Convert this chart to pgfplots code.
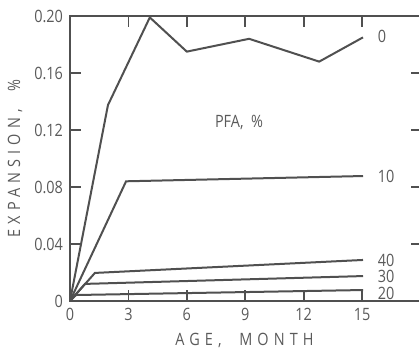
\documentclass[border=0pt]{standalone}
\usepackage{fontspec}
\setmainfont{Open Sans}[FakeStretch=0.85]
\newfontfamily\spaced{Open Sans}[FakeStretch=0.85,LetterSpace=30]
\usepackage{pgfplots}
\pgfplotsset{compat=1.18}
\definecolor{ln}{HTML}{505050}
\definecolor{tx}{HTML}{5A5A5A}
\begin{document}
\begin{tikzpicture}
\begin{axis}[
  scale only axis, width=176.2pt, height=142.5pt,
  at={(0,0)}, anchor=south west,
  xmin=0, xmax=18.1, ymin=0, ymax=0.20,
  xtick={0,3,6,9,12,15},
  ytick={0,0.04,0.08,0.12,0.16,0.20},
  yticklabels={0,0.04,0.08,0.12,0.16,0.20},
  tick align=inside, tick pos=both, major tick length=5.5pt,
  axis line style={ln, line width=1pt},
  every tick/.style={ln, line width=0.9pt},
  /pgf/number format/assume math mode=true,
  tick label style={font=\fontsize{8.5}{10}\selectfont, text=tx},
  xlabel={AGE,\ \ MONTH}, ylabel={EXPANSION,\ \ \%},
  xlabel style={font=\spaced\fontsize{8.5}{10}\selectfont, text=tx, at={(axis description cs:0.495,-0.137)}, anchor=center},
  ylabel style={font=\spaced\fontsize{8.5}{10}\selectfont, text=tx, at={(axis description cs:-0.156,0.5)}, anchor=center},
  clip=false,
]
\addplot[ln, line width=1pt] coordinates {(0,0) (1.95,0.1375) (4.1,0.199) (6.0,0.175) (9.2,0.184) (12.8,0.168) (15.05,0.185)};
\addplot[ln, line width=1pt] coordinates {(0,0) (2.88,0.084) (15.05,0.0877)};
\addplot[ln, line width=1pt] coordinates {(0,0) (1.28,0.0197) (15.05,0.0288)};
\addplot[ln, line width=1pt] coordinates {(0,0) (0.77,0.012) (15.05,0.0175)};
\addplot[ln, line width=1pt] coordinates {(0,0) (0.3,0.0042) (15.05,0.0077)};
\node[anchor=west, text=tx, font=\fontsize{8.5}{10}\selectfont] at (axis cs:15.45,0.186) {0};
\node[anchor=west, text=tx, font=\fontsize{8.5}{10}\selectfont] at (axis cs:15.45,0.0877) {10};
\node[anchor=west, text=tx, font=\fontsize{8.5}{10}\selectfont] at (axis cs:15.45,0.0288) {40};
\node[anchor=west, text=tx, font=\fontsize{8.5}{10}\selectfont] at (axis cs:15.45,0.0175) {30};
\node[anchor=west, text=tx, font=\fontsize{8.5}{10}\selectfont] at (axis cs:15.45,0.0052) {20};
\node[text=tx, font=\fontsize{8.5}{10}\selectfont] at (axis cs:8.68,0.1256) {PFA,\ \ \%};
\end{axis}
\pgfresetboundingbox
\path (-35pt,-27pt) rectangle (174.5pt,150.5pt);
\end{tikzpicture}
\end{document}
